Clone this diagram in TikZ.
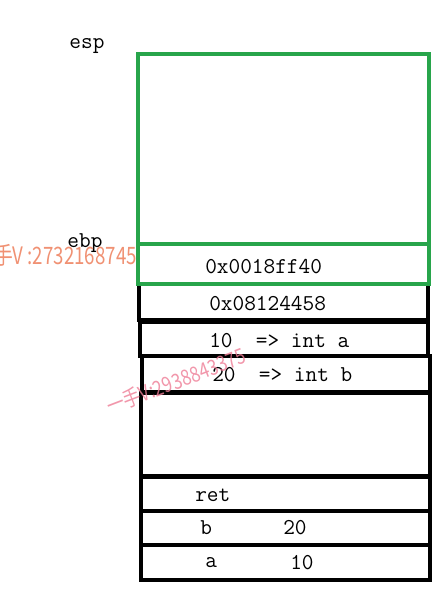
\documentclass[tikz,border=0pt]{standalone}
\usepackage{fontspec}
\newfontfamily\cjk{Noto Sans CJK SC}
\definecolor{stackgreen}{RGB}{40,165,75}
\definecolor{wmorange}{RGB}{240,145,115}
\definecolor{wmpink}{RGB}{238,125,150}

\begin{document}
\begin{tikzpicture}[x=0.75pt,y=-0.75pt,
    cell/.style={draw=black,line width=2.6pt},
    frame/.style={draw=stackgreen,line width=2.4pt},
    val/.style={font=\fontsize{17}{20}\selectfont\ttfamily,inner sep=0pt,anchor=west},
    reg/.style={font=\fontsize{17}{20}\selectfont\ttfamily,inner sep=0pt}]

\useasboundingbox (0,0) rectangle (448,589);

\draw[cell] (139,284) rectangle (428,320);   %0x08124458
\draw[cell] (140,322) rectangle (428,356);   %int a
\draw[cell] (142,356) rectangle (430,392);   %int b
\draw[cell] (141,393) rectangle (430,476);   %vacio
\draw[cell] (141,477) rectangle (430,511);   %ret
\draw[cell] (141,511) rectangle (430,545);   %b
\draw[cell] (141,545) rectangle (430,580);   %a
\draw[frame] (138,54) rectangle (429,244);   %esp
\draw[frame] (138,244) rectangle (429,284);  %ebp

\node[reg] (esp) at (87,46) {esp};
\node[reg] (ebp) at (85,243) {ebp};
\node[val] (oldebp) at (205,267) {0x0018ff40};
\node[val] (retaddr) at (209,304) {0x08124458};
\node[val] (inta) at (209,341) {10~~=> int a};
\node[val] (intb) at (212,375) {20~~=> int b};
\node[val] (ret) at (195,495) {ret};
\node[val] (argb) at (200,528) {b};
\node[val] (argbval) at (283,528) {20};
\node[val] (arga) at (205,563) {a};
\node[val] (argaval) at (290,563) {10};

\node[font=\cjk\fontsize{18}{20}\selectfont,text=wmorange,xscale=0.78,inner sep=0pt,anchor=east] (wmone) at (137,255) {一手V :2732168745};
\node[font=\cjk\fontsize{16}{18}\selectfont,text=wmpink,rotate=21,xscale=0.82,inner sep=0pt,opacity=0.8] (wmtwo) at (176,381) {一手V:2938843375};

\end{tikzpicture}
\end{document}
